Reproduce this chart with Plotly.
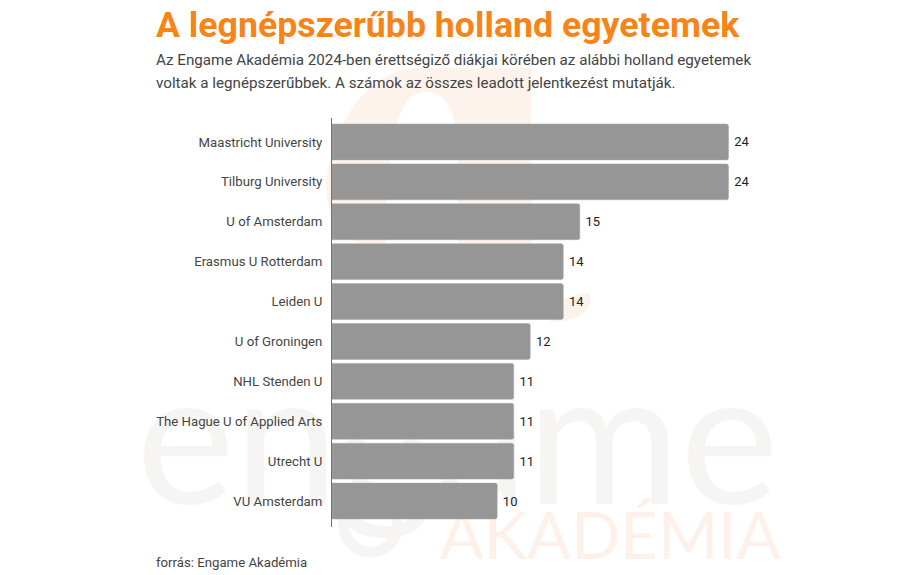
import plotly.graph_objects as go

# Data
universities = ['Maastricht University', 'Tilburg University', 'U of Amsterdam', 'Erasmus U Rotterdam',
                'Leiden U', 'U of Groningen', 'NHL Stenden U', 'The Hague U of Applied Arts',
                'Utrecht U', 'VU Amsterdam']
applications = [24, 24, 15, 14, 14, 12, 11, 11, 11, 10]

title_text = 'A legnépszerűbb holland egyetemek'
subtitle_lines = ['Az Engame Akadémia 2024-ben érettségiző diákjai körében az alábbi holland egyetemek',
                  'voltak a legnépszerűbbek. A számok az összes leadott jelentkezést mutatják.']
source_text = 'forrás: Engame Akadémia'

# plot area in page pixels (page has an 8px body margin)
LEFT, RIGHT, TOP, BOTTOM = 331.5, 760, 118, 527
TEXT_X = 153  # annotations sit about 3px right of their anchor


def px(x):
    return (x - LEFT) / (RIGHT - LEFT)


def py(y):
    return (BOTTOM - y) / (BOTTOM - TOP)


def pt(x, y):
    return f'{px(x)} {py(y)}'


fig = go.Figure(go.Bar(
    x=applications,
    y=universities,
    orientation='h',
    width=0.9,
    marker=dict(color='#969696', line=dict(color='#a8a8a8', width=0.5), cornerradius=2),
    texttemplate='\u2009%{x}',
    textposition='outside',
    textfont=dict(family='Roboto', size=13, color='#222222'),
    cliponaxis=False,
))


def watermark(text, x0, x1, y0, y1, size, color, font='Lato'):
    # label text on a below-layer shape so it stays behind the bars
    fig.add_shape(type='rect', xref='paper', yref='paper', x0=px(x0), x1=px(x1), y0=py(y1), y1=py(y0),
                  line=dict(width=0), fillcolor='rgba(0,0,0,0)', layer='below',
                  label=dict(text=text, font=dict(family=font, size=size, color=color),
                             textposition='middle center'))


def logo_shape(path, color):
    fig.add_shape(type='path', xref='paper', yref='paper', layer='below', path=path,
                  fillcolor=color, line=dict(width=0))


# pale logo behind the bars
logo_shape(f'M {pt(531, 68)} L {pt(531, 250)} L {pt(370, 250)} C {pt(325, 230)}, {pt(320, 190)}, {pt(330, 160)} '
           f'C {pt(345, 100)}, {pt(380, 68)}, {pt(420, 68)} Z', '#fdf3ec')
logo_shape(f'M {pt(385, 250)} C {pt(385, 130)}, {pt(400, 92)}, {pt(425, 92)} '
           f'C {pt(450, 92)}, {pt(458, 120)}, {pt(458, 160)} L {pt(458, 250)} Z', 'white')
logo_shape(f'M {pt(550, 322)} C {pt(575, 322)}, {pt(592, 312)}, {pt(590, 295)} '
           f'C {pt(585, 288)}, {pt(570, 298)}, {pt(550, 305)} Z', '#fdf3ec')
fig.add_shape(type='circle', xref='paper', yref='paper', layer='below',
              x0=px(343), x1=px(397), y0=py(552), y1=py(498),
              fillcolor='rgba(0,0,0,0)', line=dict(color='#f6f5f4', width=11))

watermark('engame', 127, 787, 340, 520, 186, '#f6f5f4')
watermark('AKADÉMIA', 430, 790, 498, 568, 65, '#fdf1e9')

fig.add_annotation(text=f'<b>{title_text}</b>', x=px(TEXT_X), y=py(25), xref='paper', yref='paper',
                   xanchor='left', yanchor='middle', showarrow=False,
                   font=dict(family='Roboto', size=35.7, color='#f58518'))
for line, ypos in zip(subtitle_lines, [60, 83]):
    fig.add_annotation(text=line, x=px(TEXT_X), y=py(ypos), xref='paper', yref='paper',
                       xanchor='left', yanchor='middle', showarrow=False,
                       font=dict(family='Roboto', size=15.2, color='#444444'))
fig.add_annotation(text=source_text, x=px(TEXT_X), y=py(562), xref='paper', yref='paper',
                   xanchor='left', yanchor='middle', showarrow=False,
                   font=dict(family='Roboto', size=13.2, color='#444444'))

fig.update_layout(
    width=892, height=567,
    margin=dict(l=LEFT - 8, r=900 - RIGHT, t=TOP - 8, b=575 - BOTTOM),
    paper_bgcolor='white', plot_bgcolor='rgba(0,0,0,0)',
    showlegend=False,
    xaxis=dict(range=[0, (RIGHT - LEFT) / 16.54], visible=False),
    yaxis=dict(autorange=False, range=[9.65, -0.6], type='category', categoryorder='array', categoryarray=universities,
               showline=True, linecolor='#707070', linewidth=1, showgrid=False, ticks='', ticklabelstandoff=6,
               tickfont=dict(family='Roboto', size=13.2, color='#444444')),
)

fig.write_html('out.html')
